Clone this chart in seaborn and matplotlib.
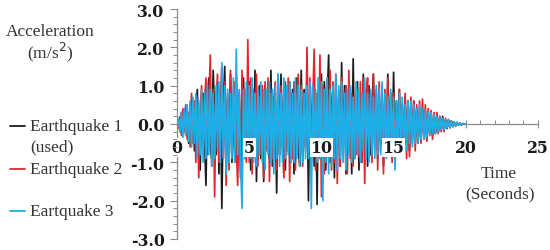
import numpy as np
import pandas as pd
import matplotlib
matplotlib.use("Agg")
import matplotlib.pyplot as plt
from matplotlib.ticker import MultipleLocator
from matplotlib.lines import Line2D
import seaborn as sns

# ---- data (0.1 s sampling) ----
time_s = np.round(np.arange(0, 20.0001, 0.1), 2)

eq1 = [0.0, 0.1, -0.2, 0.3, -0.1, 0.4, -0.3, 0.2, -0.5, 0.4,
       -0.3, 0.6, -0.7, 0.4, 0.9, -0.5, -1.2, 0.6, 0.8, -0.4,
       -1.6, 0.7, 1.2, -0.6, -0.9, 1.4, 0.3, -0.8, 1.0, -1.3,
       0.9, -2.2, 0.5, 1.5, -1.1, 0.7, -0.5, 1.3, -1.0, 0.6,
       -1.0, 1.3, -0.6, 0.8, -1.4, 0.5, 1.2, -0.9, 0.4, -0.6,
       1.1, -1.2, 0.8, -0.7, 1.4, -1.5, 0.6, 1.0, -0.9, 0.5,
       -1.5, 1.0, -0.4, 0.9, -0.9, 1.4, -1.1, 0.7, 0.3, -1.8,
       1.2, -0.8, 1.3, -0.6, 0.8, -1.2, 0.9, -0.5, 1.1, -1.0,
       0.9, -1.3, 0.6, 1.2, -0.7, -1.1, 1.4, -0.8, 0.9, -0.6,
       1.3, -2.0, 0.8, -0.5, 1.0, -1.1, 0.7, -2.1, 1.2, -0.9,
       1.3, -0.9, 1.1, -1.2, 0.6, 1.8, -1.0, 0.5, 0.9, -1.4,
       1.2, -0.8, 0.7, -1.1, 1.6, -0.6, 1.0, -1.3, 0.8, -0.7,
       1.0, -1.3, 1.7, -0.9, 0.6, 1.1, -1.2, 0.8, -1.0, 1.3,
       -0.7, 0.9, -1.1, 1.0, -0.8, 0.5, 1.3, -0.6, 0.8, -0.9,
       0.7, -0.5, 1.0, -1.1, 0.6, -0.8, 1.3, -0.6, 0.8, -0.9,
       1.35, -0.5, 0.6, -0.7, 0.9, -0.8, 0.5, -0.6, 0.7, -0.5,
       0.6, -0.7, 0.5, -0.4, 0.6, -0.5, 0.4, -0.5, 0.3, -0.4,
       0.4, -0.3, 0.35, -0.4, 0.3, -0.25, 0.3, -0.3, 0.2, -0.25,
       0.25, -0.2, 0.2, -0.15, 0.2, -0.15, 0.1, -0.12, 0.1, -0.08,
       0.08, -0.06, 0.05, -0.05, 0.04, -0.03, 0.02, -0.02, 0.01, 0.0,
       0.0]

eq2 = [0.0, -0.1, 0.2, -0.3, 0.4, -0.2, 0.5, -0.4, 0.3, -0.6,
       0.8, -0.5, 0.6, -1.0, 0.7, -1.4, 0.4, 1.0, -0.8, 0.6,
       1.2, -0.8, 0.5, 1.8, -1.1, 0.9, -1.9, 0.6, 1.3, -1.0,
       0.7, 1.5, -0.9, 1.1, -1.6, 0.8, -1.2, 1.4, -0.7, 0.9,
       1.1, -0.6, -1.6, 0.8, -1.2, 1.4, -0.5, 0.9, -1.0, 2.2,
       -1.0, 1.2, -1.3, 0.9, -0.6, 1.3, -1.1, 0.7, -0.8, 1.0,
       -1.4, 1.1, -0.7, 1.2, -1.5, 0.8, -0.9, 0.6, 1.1, -1.2,
       1.3, -0.8, 1.0, -0.6, -1.4, 1.1, -0.7, 1.2, -1.5, 0.8,
       -0.9, 1.1, -1.2, 0.6, 1.3, -0.8, 1.0, -1.1, 0.5, -0.7,
       2.0, -0.9, 1.2, -1.0, 0.6, 1.95, -1.2, 0.8, -0.6, 1.8,
       -1.9, 1.0, -1.3, 0.7, 1.2, -0.9, 1.4, -1.2, 1.1, -1.0,
       1.3, -1.55, 0.9, -1.1, 1.2, -0.8, 0.6, 1.0, -1.3, 1.4,
       -0.9, 0.8, -1.1, 0.7, -0.8, 0.9, -0.85, 1.1, -1.0, 1.2,
       -1.55, 0.8, 1.2, -0.9, 0.7, -1.0, 1.3, -0.6, 0.9, -1.2,
       1.1, -0.7, 0.8, -1.3, 0.9, -0.6, 1.2, -0.8, 0.7, -1.0,
       0.8, -1.1, 0.6, -0.7, 0.9, -0.8, 0.5, -0.6, 0.8, -0.9,
       0.6, -0.85, 0.7, -0.5, 0.6, -0.7, 0.5, -0.4, 0.6, -0.5,
       0.65, -0.4, 0.5, -0.45, 0.4, -0.3, 0.35, -0.4, 0.3, -0.25,
       0.3, -0.25, 0.2, -0.2, 0.15, -0.2, 0.15, -0.1, 0.12, -0.1,
       0.08, -0.06, 0.05, -0.05, 0.04, -0.03, 0.02, -0.02, 0.01, 0.0,
       0.0]

eq3 = [0.0, 0.15, -0.2, 0.3, -0.35, 0.4, -0.3, 0.5, -0.45, 0.6,
       -0.6, 0.7, -0.5, 0.8, -0.9, 0.6, -0.8, 0.9, -1.0, 0.8,
       -0.9, 1.0, -0.8, 0.9, -1.1, 0.8, -0.9, 1.0, -0.7, 1.1,
       -1.0, 1.6, -0.9, 1.0, -1.3, 0.9, -1.0, 0.8, -0.9, 1.2,
       -1.0, 1.95, -0.8, 0.9, -1.1, -2.2, 0.9, -0.9, 1.1, -0.8,
       1.0, -0.9, 1.2, -1.0, 0.8, -1.1, 0.9, -0.8, 1.1, -1.0,
       0.9, -1.2, 0.9, -0.8, 1.1, -1.0, 0.9, -1.3, 1.0, -0.9,
       1.3, -1.1, 0.8, -1.0, 1.2, -0.9, 1.0, -0.8, 1.1, -1.0,
       0.8, -1.0, 1.2, -0.9, 1.0, -1.1, 0.9, -1.0, 0.8, -0.9,
       1.0, -0.9, 1.1, -2.2, 1.0, -0.8, 0.9, -1.0, 1.2, -0.9,
       1.1, -2.0, 0.9, -1.0, 1.2, -1.3, 0.9, -1.1, 1.0, -0.9,
       1.3, -1.2, 1.0, -0.9, 1.1, -1.0, 0.8, -1.2, 0.9, -0.8,
       1.0, -1.0, 0.7, -0.9, 1.1, -0.8, 0.9, -1.0, 0.8, -0.7,
       1.2, -0.9, 0.8, -1.0, 0.9, -0.8, 0.7, -0.9, 1.0, -0.8,
       0.9, -0.8, 1.1, -0.7, 0.8, -0.9, 0.7, -0.8, 0.9, -0.7,
       0.7, -1.2, 0.6, -0.7, 0.8, -0.6, 0.7, -0.6, 0.5, -0.7,
       0.6, -0.5, 0.6, -0.6, 0.5, -0.5, 0.4, -0.5, 0.5, -0.4,
       0.4, -0.4, 0.35, -0.35, 0.3, -0.3, 0.3, -0.25, 0.25, -0.25,
       0.2, -0.2, 0.2, -0.15, 0.15, -0.15, 0.12, -0.1, 0.1, -0.1,
       0.08, -0.08, 0.06, -0.05, 0.04, -0.03, 0.02, -0.02, 0.01, 0.0,
       0.0]

labels = ["Earthquake 1\n(used)", "Earthquake 2", "Eartquake 3"]
colors = ["#1c1c1c", "#e3262b", "#1eaee8"]
y_ticks = [-3.0, -2.0, -1.0, 0.0, 1.0, 2.0, 3.0]
x_ticks = [0, 5, 10, 15, 20, 25]

df = pd.concat([
    pd.DataFrame({"Time": time_s, "Acc": eq1, "Series": labels[0]}),
    pd.DataFrame({"Time": time_s, "Acc": eq2, "Series": labels[1]}),
    pd.DataFrame({"Time": time_s, "Acc": eq3, "Series": labels[2]}),
])

sns.set_style("white")
plt.rcParams["font.family"] = ["Liberation Serif", "DejaVu Serif"]

fig = plt.figure(figsize=(5.5, 2.51), dpi=100)
ax = fig.add_axes([0.322, 0.044, 0.656, 0.916])

sns.lineplot(data=df, x="Time", y="Acc", hue="Series", hue_order=labels,
             palette=colors, estimator=None, sort=False, linewidth=1.25,
             legend=False, ax=ax)

ax.set_xlim(0, 25)
ax.set_ylim(-3, 3)
ax.set_xlabel("")
ax.set_ylabel("")
ax.set_axisbelow(False)

for s in ["top", "right"]:
    ax.spines[s].set_visible(False)
ax.spines["left"].set_position(("data", 0))
ax.spines["bottom"].set_position(("data", 0))
for s in ["left", "bottom"]:
    ax.spines[s].set_color("#8c8c8c")
    ax.spines[s].set_linewidth(0.9)
ax.spines["bottom"].set_zorder(0.5)

ax.set_yticks(y_ticks)
ax.set_yticklabels([f"{v:.1f}" for v in y_ticks])
ax.set_xticks(x_ticks)
ax.set_xticklabels([str(v) for v in x_ticks])
ax.yaxis.set_minor_locator(MultipleLocator(0.2))
ax.xaxis.set_minor_locator(MultipleLocator(1))

tick_font = {"family": "DejaVu Serif", "weight": "bold", "size": 11.3}
ax.tick_params(left=True, bottom=True, which="both")
ax.tick_params(axis="y", which="major", direction="out", length=5, width=0.8,
               color="#8c8c8c", pad=4, labelcolor="#1a1a1a")
ax.tick_params(axis="y", which="minor", direction="out", length=3, width=0.7,
               color="#8c8c8c")
ax.tick_params(axis="x", which="major", direction="inout", length=6, width=0.8,
               color="#8c8c8c", pad=8, labelcolor="#1a1a1a")
ax.tick_params(axis="x", which="minor", direction="in", length=3, width=0.7,
               color="#8c8c8c")
for t in ax.get_yticklabels() + ax.get_xticklabels():
    t.set_fontproperties(tick_font)
for t in ax.get_xticklabels():
    t.set_bbox(dict(facecolor="white", edgecolor="none", pad=0.6))

txt_color = "#333333"
fs = 12.5
fig.text(50 / 550, 1 - 32 / 251, "Acceleration", ha="center", va="center",
         fontsize=fs, color=txt_color)
fig.text(50 / 550, 1 - 52 / 251, "(m/s$^2$)", ha="center", va="center",
         fontsize=fs, color=txt_color)
fig.text(499 / 550, 1 - 174 / 251, "Time", ha="center", va="center",
         fontsize=fs, color=txt_color)
fig.text(500 / 550, 1 - 194 / 251, "(Seconds)", ha="center", va="center",
         fontsize=fs, color=txt_color)

# legend (placed manually to follow the reference spacing)
leg_rows = [127, 170, 212]
for lab, col, yp in zip(labels, colors, leg_rows):
    yf = 1 - yp / 251
    fig.add_artist(Line2D([10 / 550, 25 / 550], [yf, yf], color=col,
                          linewidth=1.3, transform=fig.transFigure))
    first, *rest = lab.split("\n")
    fig.text(30 / 550, yf, first, ha="left", va="center", fontsize=fs,
             color=txt_color)
    for k, r in enumerate(rest, start=1):
        fig.text(30 / 550, 1 - (yp + 20 * k) / 251, r, ha="left",
                 va="center", fontsize=fs, color=txt_color)

fig.savefig("out.png", dpi=100)
